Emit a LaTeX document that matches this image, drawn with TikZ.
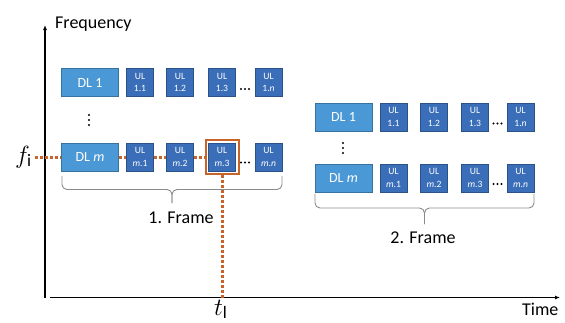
\documentclass[tikz,border=0pt]{standalone}
\usepackage{fontspec}
\setmainfont{Carlito}
\usetikzlibrary{arrows.meta}
\definecolor{dlblue}{HTML}{4A98D5}
\definecolor{ulblue}{HTML}{3B6EB8}
\definecolor{hlorange}{HTML}{C8632A}
\definecolor{bracegray}{HTML}{8A8A8A}
\begin{document}
\begin{tikzpicture}[x=1pt,y=-1pt,
  dlbox/.style={fill=dlblue, draw=dlblue!75!black, line width=0.5pt, text=white,
    minimum width=57pt, minimum height=28pt, inner sep=0pt, font=\fontsize{14}{16}\selectfont},
  ulbox/.style={fill=ulblue, draw=ulblue!75!black, line width=0.5pt, text=white,
    minimum width=27pt, minimum height=28pt, inner sep=0pt, align=center,
    font=\fontsize{9.6}{12.5}\selectfont},
  hlbox/.style={draw=hlorange, line width=2pt, minimum width=33pt, minimum height=34pt, inner sep=0pt},
  guide/.style={draw=hlorange, line width=3pt, dash pattern=on 3pt off 2pt},
  axis/.style={line width=1.3pt, -{Latex[length=5pt,width=4pt]}},
  bracestyle/.style={draw=bracegray, line width=0.9pt, rounded corners=5pt},
  lbl/.style={inner sep=0pt, font=\fontsize{18}{20}\selectfont},
  mathlbl/.style={inner sep=0pt, font=\fontsize{25}{27}\selectfont},
  dot/.style={fill=black, circle, inner sep=0pt, minimum size=2.4pt}
]
\useasboundingbox (0,0) rectangle (565,322);

% axes
\coordinate (ybot) at (45,298);
\coordinate (ytop) at (45,25);
\coordinate (xleft) at (50,297.5);
\coordinate (xright) at (560,297.5);
\draw[axis] (ybot) -- (ytop);
\draw[axis] (xleft) -- (xright);
\node[lbl, anchor=base west] (freq) at (55,28) {Frequency};
\node[lbl, anchor=base west] (time) at (522,315) {Time};

% Frame 1
\node[dlbox] (a-dl1) at (90,82.5) {DL 1};
\node[ulbox] (a-u11) at (140,82.5) {UL\\1.1};
\node[ulbox] (a-u12) at (180,82.5) {UL\\1.2};
\node[ulbox] (a-u13) at (222,82.5) {UL\\1.3};
\node[ulbox] (a-u1n) at (268.5,82.5) {UL\\1.\textit{n}};
\node[dlbox] (a-dlm) at (90,157) {DL \textit{m}};
\node[ulbox] (a-um1) at (140,157) {UL\\\textit{m}.1};
\node[ulbox] (a-um2) at (180,157) {UL\\\textit{m}.2};
\node[ulbox] (a-um3) at (222,157) {UL\\\textit{m}.3};
\node[ulbox] (a-umn) at (268.5,157) {UL\\\textit{m}.\textit{n}};
\node[hlbox] (hl) at (222,157) {};

\foreach \x in {241,245,249} {\node[dot] at (\x,89) {}; \node[dot] at (\x,162.5) {};}
\foreach \y in {115,120,125} {\node[dot] at (89,\y) {};}

\draw[bracestyle] (62,176) |- (172,189.5) -- (172,203);
\draw[bracestyle] (282,176) |- (172,189.5) -- (172,203);
\node[lbl, anchor=base] (f1) at (181,223) {1. Frame};

% Frame 2
\node[dlbox] (b-dl1) at (343.5,117) {DL 1};
\node[ulbox] (b-u11) at (393.5,117) {UL\\1.1};
\node[ulbox] (b-u12) at (434,117) {UL\\1.2};
\node[ulbox] (b-u13) at (475,117) {UL\\1.3};
\node[ulbox] (b-u1n) at (520.5,117) {UL\\1.\textit{n}};
\node[dlbox] (b-dlm) at (343.5,178) {DL \textit{m}};
\node[ulbox] (b-um1) at (393.5,178) {UL\\\textit{m}.1};
\node[ulbox] (b-um2) at (434,178) {UL\\\textit{m}.2};
\node[ulbox] (b-um3) at (475,178) {UL\\\textit{m}.3};
\node[ulbox] (b-umn) at (520.5,178) {UL\\\textit{m}.\textit{n}};

\foreach \x in {493.5,497.5,501.5} {\node[dot] at (\x,123.5) {}; \node[dot] at (\x,184) {};}
\foreach \y in {143,148,153} {\node[dot] at (343,\y) {};}

\draw[bracestyle] (315,194) |- (424.5,208) -- (424.5,224);
\draw[bracestyle] (534,194) |- (424.5,208) -- (424.5,224);
\node[lbl, anchor=base] (f2) at (423,243) {2. Frame};

% labels f_i and t_l
\node[mathlbl, anchor=base west] (fi) at (15,163) {$f_{\mathrm{i}}$};
\node[mathlbl, anchor=base west] (tl) at (214,315) {$t_{\mathrm{l}}$};

% guide lines
\coordinate (fstart) at (35,157);
\coordinate (tend) at (222,297.5);
\draw[guide] (fstart) -- (a-dlm.west);
\draw[guide] (a-dlm.east) -- (a-um1.west);
\draw[guide] (a-um1.east) -- (a-um2.west);
\draw[guide] (a-um2.east) -- (hl.west);
\draw[guide] (hl.south) -- (tend);
\end{tikzpicture}
\end{document}
